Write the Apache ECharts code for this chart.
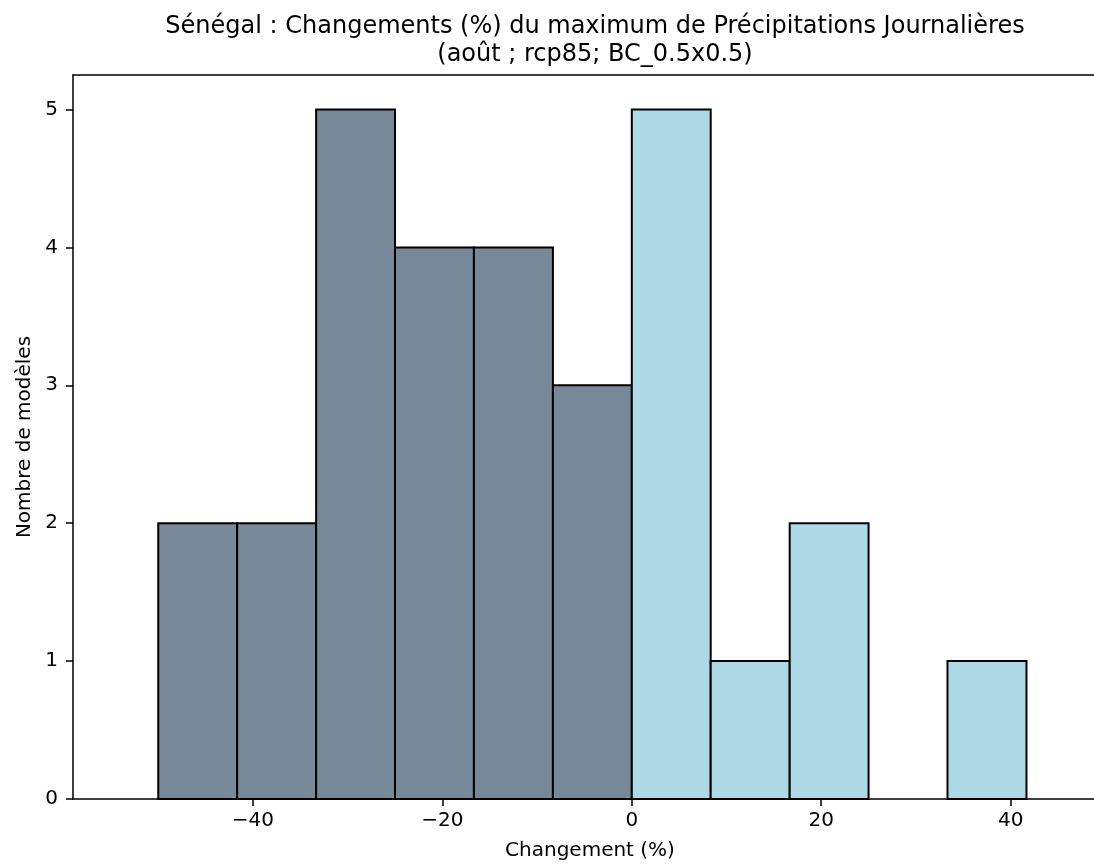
<!DOCTYPE html>
<html>
<head>
<meta charset="utf-8">
<script src="https://cdn.jsdelivr.net/npm/echarts@6/dist/echarts.min.js"></script>
<style>html,body{margin:0;padding:0;background:#fff}#c{width:1094px;height:867px}</style>
</head>
<body>
<div id="c"></div>
<script>
const titleText = "Sénégal : Changements (%) du maximum de Précipitations Journalières\n(août ; rcp85; BC_0.5x0.5)";
const xLabel = "Changement (%)";
const yLabel = "Nombre de modèles";
const binEdges = [-50, -41.67, -33.33, -25, -16.67, -8.33, 0, 8.33, 16.67, 25, 33.33, 41.67];
const counts = [2, 2, 5, 4, 4, 3, 5, 1, 2, 0, 1];
const xTicks = [-40, -20, 0, 20, 40];
const yTicks = [0, 1, 2, 3, 4, 5];
const negColor = '#778899';
const posColor = '#ADD8E6';
const FONT = 'DejaVu Sans';

const data = counts.map((c, i) => [binEdges[i], binEdges[i + 1], c]);
const xMin = -59, xMax = 48.8, yMax = 5.25;
const fmt = v => v < 0 ? '\u2212' + Math.abs(v) : String(v);

const chart = echarts.init(document.getElementById('c'), null, {renderer: 'canvas'});
chart.setOption({
  animation: false,
  backgroundColor: '#fff',
  title: {
    text: titleText,
    left: 590, top: 8, textAlign: 'center',
    textStyle: {fontFamily: FONT, fontSize: 24, fontWeight: 'normal', color: '#000', lineHeight: 28}
  },
  grid: {left: 73, right: 0, top: 75, bottom: 68, containLabel: false},
  xAxis: [{
    type: 'value', min: xMin, max: xMax,
    name: xLabel, nameLocation: 'middle', nameGap: 42,
    nameTextStyle: {fontFamily: FONT, fontSize: 20, color: '#000', padding: [0, 0, 0, 13]},
    axisLine: {show: true, onZero: false, lineStyle: {color: '#000', width: 1.5}},
    axisTick: {show: true, length: 7, lineStyle: {color: '#000', width: 1.5}, customValues: xTicks},
    axisLabel: {fontFamily: FONT, fontSize: 20, color: '#000', margin: 12, customValues: xTicks, formatter: fmt},
    splitLine: {show: false}
  }, {
    type: 'value', min: xMin, max: xMax, position: 'top',
    axisLine: {show: true, onZero: false, lineStyle: {color: '#000', width: 1.5}},
    axisTick: {show: false}, axisLabel: {show: false}, splitLine: {show: false}
  }],
  yAxis: {
    type: 'value', min: 0, max: yMax,
    name: yLabel, nameLocation: 'middle', nameGap: 38, nameRotate: 90,
    nameTextStyle: {fontFamily: FONT, fontSize: 20, color: '#000'},
    axisLine: {show: true, onZero: false, lineStyle: {color: '#000', width: 1.5}},
    axisTick: {show: true, length: 7, lineStyle: {color: '#000', width: 1.5}, customValues: yTicks},
    axisLabel: {fontFamily: FONT, fontSize: 20, color: '#000', margin: 15, customValues: yTicks},
    splitLine: {show: false}
  },
  series: [{
    type: 'custom',
    xAxisIndex: 0, yAxisIndex: 0,
    encode: {x: [0, 1], y: 2},
    data: data,
    renderItem: function (params, api) {
      const x0 = api.value(0), x1 = api.value(1), c = api.value(2);
      if (!c) return null;
      const p0 = api.coord([x0, c]);
      const p1 = api.coord([x1, 0]);
      return {
        type: 'rect',
        shape: {x: p0[0], y: p0[1], width: p1[0] - p0[0], height: p1[1] - p0[1]},
        style: {fill: x0 < 0 ? negColor : posColor, stroke: '#000', lineWidth: 2}
      };
    }
  }]
});
</script>
</body>
</html>
